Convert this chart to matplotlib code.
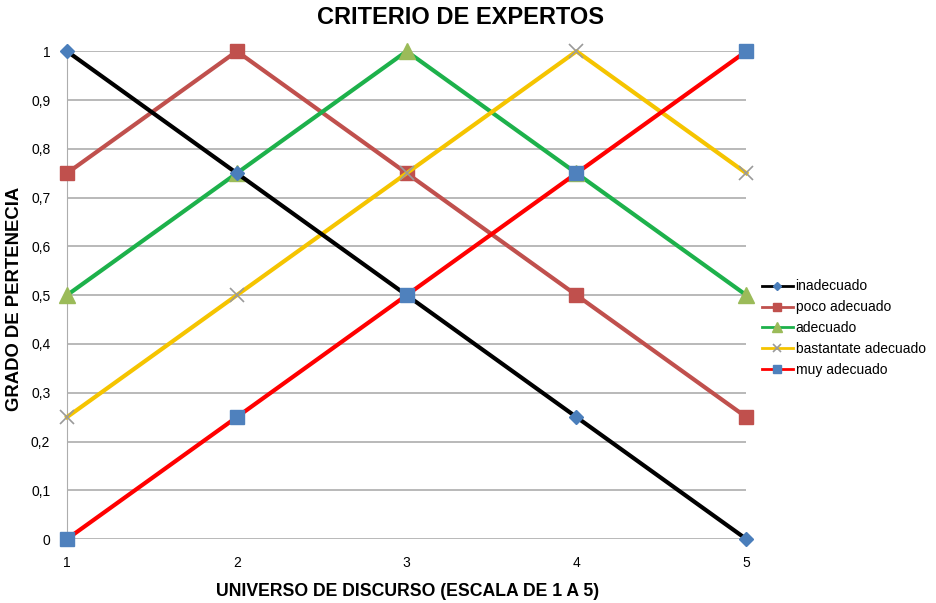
import matplotlib.pyplot as plt

plt.rcParams['font.family'] = ['Liberation Sans', 'DejaVu Sans']

# universe of discourse and membership grades
x = [1, 2, 3, 4, 5]
inadecuado = [1, 0.75, 0.5, 0.25, 0]
poco_adecuado = [0.75, 1, 0.75, 0.5, 0.25]
adecuado = [0.5, 0.75, 1, 0.75, 0.5]
bastante_adecuado = [0.25, 0.5, 0.75, 1, 0.75]
muy_adecuado = [0, 0.25, 0.5, 0.75, 1]
y_ticks = [0, 0.1, 0.2, 0.3, 0.4, 0.5, 0.6, 0.7, 0.8, 0.9, 1]

fig = plt.figure(figsize=(9.37, 6.03), dpi=100)
ax = fig.add_axes([0.0715, 0.106, 0.725, 0.809])

ax.plot(x, inadecuado, color='black', lw=3, marker='D', ms=7,
        mfc='#4A7EBB', mec='#4A7EBB', label='inadecuado', clip_on=False, zorder=5)
ax.plot(x, poco_adecuado, color='#C0504D', lw=3, marker='s', ms=10,
        mfc='#C0504D', mec='#C0504D', label='poco adecuado', clip_on=False, zorder=4)
ax.plot(x, adecuado, color='#1DB14B', lw=3, marker='^', ms=11,
        mfc='#9BBB59', mec='#9BBB59', label='adecuado', clip_on=False, zorder=4)
ax.plot(x, bastante_adecuado, color='#F5C400', lw=3, marker='x', ms=10, mew=1.2,
        mec='#9A9A9A', label='bastantate adecuado', clip_on=False, zorder=4)
ax.plot(x, muy_adecuado, color='#FF0000', lw=3, marker='s', ms=10,
        mfc='#4F81BD', mec='#4F81BD', label='muy adecuado', clip_on=False, zorder=6)

ax.set_xlim(1, 5)
ax.set_ylim(0, 1)
ax.set_xticks(x)
ax.set_yticks(y_ticks)
ax.set_yticklabels([('%g' % v).replace('.', ',') for v in y_ticks], fontsize=10)
ax.tick_params(axis='x', labelsize=10, length=0, pad=12)
ax.tick_params(axis='y', length=0, pad=12)
ax.grid(axis='y', color='#ADADAD', lw=1.2)
ax.set_axisbelow(True)
for s in ['top', 'right', 'bottom']:
    ax.spines[s].set_visible(False)
ax.spines['left'].set_color('#ADADAD')

# titles placed in figure pixels like the original
fig.text(461 / 937, 1 - 18 / 603, 'CRITERIO DE EXPERTOS', fontsize=17,
         fontweight='bold', ha='center', va='center')
fig.text(408 / 937, 1 - 592 / 603, 'UNIVERSO DE DISCURSO (ESCALA DE 1 A 5)',
         fontsize=12.7, fontweight='bold', ha='center', va='center')
fig.text(15 / 937, 1 - 299 / 603, 'GRADO DE PERTENECIA', fontsize=13.3,
         fontweight='bold', ha='center', va='center', rotation=90)

leg = ax.legend(loc='center left', bbox_to_anchor=(1.005, 0.432), frameon=False,
                fontsize=10, handlelength=2.2, handletextpad=0.2, labelspacing=0.5,
                markerscale=0.6)
for line in leg.get_lines():
    line.set_linewidth(2)

fig.savefig('out.png', dpi=100)
